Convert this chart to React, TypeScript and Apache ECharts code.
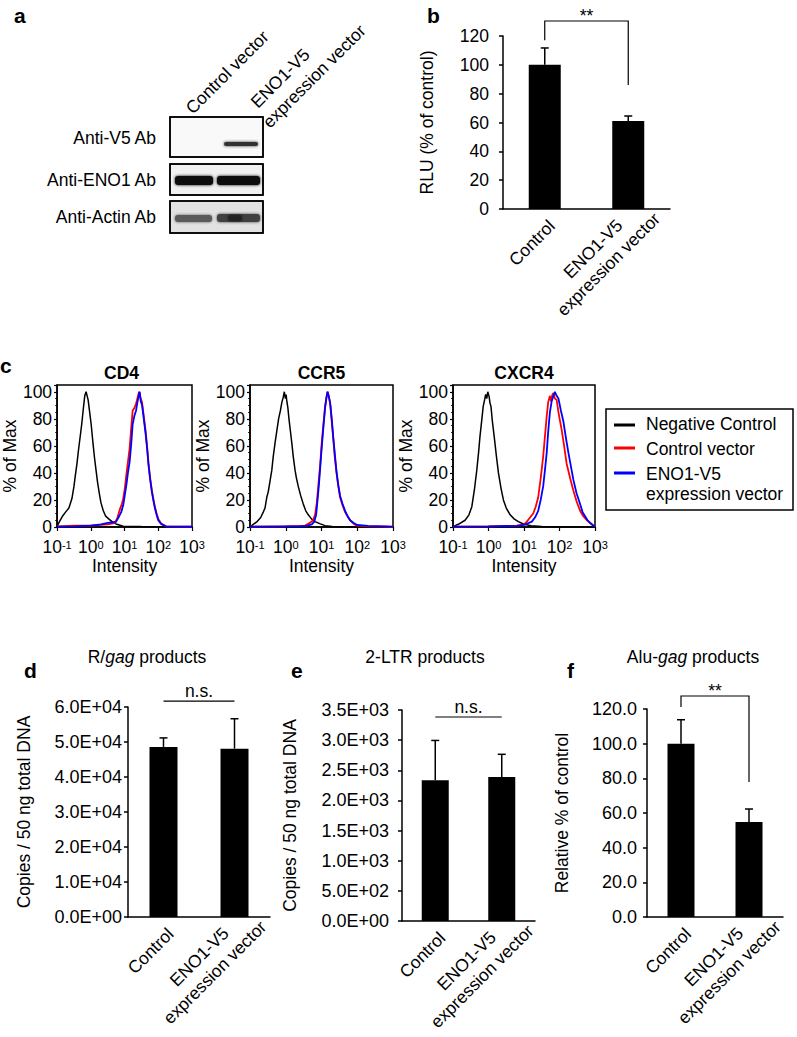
import React, { useEffect, useRef } from "react";
import * as echarts from "echarts";

const FONT = "'Liberation Sans', Arial, Helvetica, sans-serif";

// ---------- bar-chart data ----------
const BAR_CATEGORIES = ["Control", "ENO1-V5\nexpression vector"];
const RLU_VALUES = [100, 61];
const RLU_ERRORS = [11.7, 3.5];
const RGAG_VALUES = [48600, 48100];
const RGAG_ERRORS = [2570, 8550];
const LTR_VALUES = [2335, 2390];
const LTR_ERRORS = [660, 375];
const ALU_VALUES = [100, 54.8];
const ALU_ERRORS = [13.8, 7.5];

// significance annotations (value units)
const RLU_SIG = { level: 130.4, leftEnd: 117, rightEnd: 86, text: "**" };
const RGAG_SIG = { level: 61700, text: "n.s." };
const LTR_SIG = { level: 3384, text: "n.s." };
const ALU_SIG = { level: 127.5, leftEnd: 121.2, rightEnd: 77.9, text: "**" };

// ---------- flow-cytometry histograms: [log10 intensity, % of max] ----------
const LEGEND_NAMES = ["Negative Control", "Control vector", "ENO1-V5 expression vector"];
const HIST_COLORS = ["#000000", "#ff0000", "#0000ff"];

const CD4_NEG = [[-1,0.5],[-0.95,3],[-0.84,8],[-0.75,11],[-0.65,14],[-0.56,21],[-0.5,30],[-0.46,38],[-0.41,47],[-0.37,56],[-0.32,66],[-0.27,76],[-0.22,88],[-0.18,97],[-0.14,100],[-0.11,97],[-0.08,94],[-0.04,86],[0.01,76],[0.06,63],[0.11,51],[0.16,41],[0.2,33],[0.25,25],[0.3,18],[0.37,12],[0.44,8],[0.53,6],[0.63,4],[0.77,2],[0.96,0.5],[1.5,0.3],[2.2,0.2],[3,0]];
const CD4_CTRL = [[-1,0.5],[-0.5,1],[0,1],[0.3,1.5],[0.5,2],[0.62,2.5],[0.72,3],[0.79,7],[0.86,13],[0.92,17],[0.96,21],[1.01,29],[1.05,38],[1.1,48],[1.15,58],[1.2,74],[1.24,86],[1.29,88],[1.34,91],[1.38,95],[1.43,100],[1.47,96],[1.52,92],[1.57,82],[1.62,72],[1.67,59],[1.71,47],[1.76,36],[1.81,27],[1.86,20],[1.9,15],[1.95,10],[2,6],[2.09,2.5],[2.23,0.5],[2.5,0.3],[3,0.2]];
const CD4_ENO1 = [[-1,0.3],[-0.5,0.5],[0,1],[0.3,2],[0.5,3],[0.65,3.5],[0.75,4],[0.82,7],[0.9,11],[0.96,16],[1.01,24],[1.06,32],[1.1,40],[1.15,48],[1.2,62],[1.24,76],[1.29,82],[1.34,86],[1.38,92],[1.42,97],[1.45,100],[1.48,93],[1.52,90],[1.57,80],[1.62,70],[1.67,58],[1.71,46],[1.76,35],[1.81,26],[1.86,19],[1.9,14],[1.95,9],[2,5],[2.09,2],[2.23,0.5],[2.5,0.3],[3,0.2]];

const CCR5_NEG = [[-1,0],[-0.91,2],[-0.8,4],[-0.7,7],[-0.63,11],[-0.58,14],[-0.53,22],[-0.49,26],[-0.44,34],[-0.39,42],[-0.35,52],[-0.3,62],[-0.25,71],[-0.2,80],[-0.15,86],[-0.11,92],[-0.07,96],[-0.04,100],[-0.01,95],[0.01,98],[0.03,93],[0.06,88],[0.09,80],[0.13,71],[0.17,62],[0.21,52],[0.26,42],[0.3,36],[0.35,30],[0.42,23],[0.49,17],[0.56,12],[0.63,9],[0.72,6],[0.82,4],[0.95,2.5],[1.1,1],[1.3,0.3],[1.6,0],[3,0]];
const CCR5_CTRL = [[-1,0.3],[0,0.5],[0.4,0.8],[0.54,1],[0.64,2.5],[0.73,4],[0.78,6],[0.82,9],[0.87,18],[0.91,30],[0.96,45],[1,60],[1.05,75],[1.1,89],[1.14,96],[1.17,100],[1.2,97],[1.24,92],[1.28,80],[1.33,65],[1.37,52],[1.42,40],[1.47,30],[1.52,22],[1.59,16],[1.66,11],[1.73,8],[1.8,5],[1.9,2.5],[1.99,1],[2.3,0.5],[2.8,0.3],[3,0]];
const CCR5_ENO1 = [[-1,0.3],[0,0.5],[0.4,0.5],[0.6,1],[0.73,2],[0.8,4],[0.85,9],[0.89,20],[0.93,32],[0.97,46],[1.01,60],[1.06,76],[1.1,88],[1.14,96],[1.17,100],[1.21,96],[1.25,90],[1.29,79],[1.33,66],[1.38,52],[1.42,41],[1.47,31],[1.52,23],[1.59,17],[1.66,12],[1.73,8],[1.8,5],[1.9,3],[2,1.5],[2.3,0.8],[2.8,0.5],[3,0.3]];

const CXCR4_NEG = [[-1,0.3],[-0.85,2],[-0.66,5],[-0.55,9],[-0.47,15],[-0.4,27],[-0.33,42],[-0.28,55],[-0.24,67],[-0.19,79],[-0.15,89],[-0.11,94],[-0.08,98],[-0.05,95],[-0.02,100],[0.02,96],[0.04,92],[0.07,89],[0.11,78],[0.16,67],[0.22,53],[0.28,40],[0.35,29],[0.42,20],[0.5,14],[0.61,9],[0.72,6],[0.84,4],[1,2],[1.2,1],[1.5,0.3],[2,0],[3,0]];
const CXCR4_CTRL = [[-1,0.3],[0,0.5],[0.8,1],[1,2],[1.08,4],[1.17,7],[1.26,10],[1.33,15],[1.4,22],[1.47,36],[1.54,52],[1.59,67],[1.64,82],[1.68,92],[1.73,97],[1.76,93],[1.8,98],[1.83,99],[1.87,95],[1.92,94],[1.97,85],[2.01,79],[2.06,72],[2.13,60],[2.2,47],[2.3,36],[2.39,27],[2.48,19],[2.58,12],[2.67,8],[2.77,5],[2.87,3],[2.96,1],[3,0.5]];
const CXCR4_ENO1 = [[-1,0.3],[0,0.5],[0.8,0.8],[1,1.5],[1.22,4],[1.31,7],[1.4,12],[1.47,20],[1.54,30],[1.59,42],[1.64,55],[1.68,70],[1.73,85],[1.78,93],[1.83,97],[1.87,100],[1.92,97],[1.97,95],[2.04,86],[2.11,78],[2.18,66],[2.25,55],[2.32,45],[2.39,35],[2.48,25],[2.58,17],[2.65,11],[2.72,8],[2.79,5],[2.86,3],[2.93,1.5],[3,0.3]];

const HIST_PANELS = [
  { title: "CD4", curves: [CD4_NEG, CD4_CTRL, CD4_ENO1] },
  { title: "CCR5", curves: [CCR5_NEG, CCR5_CTRL, CCR5_ENO1] },
  { title: "CXCR4", curves: [CXCR4_NEG, CXCR4_CTRL, CXCR4_ENO1] },
];
const INTENSITY_EXP_MIN = -1;
const INTENSITY_EXP_MAX = 3;

// ---------- helpers ----------
function sci(v: number): string {
  if (v === 0) return "0.0E+00";
  const e = Math.floor(Math.log10(v) + 1e-9);
  const m = v / Math.pow(10, e);
  return `${m.toFixed(1)}E+${String(e).padStart(2, "0")}`;
}

const T = (fontSize: number, extra: any = {}) => ({ fontFamily: FONT, fontSize, color: "#000", ...extra });

function barXAxis(grid: number) {
  return {
    gridIndex: grid,
    type: "category",
    data: BAR_CATEGORIES,
    axisLine: { show: true, onZero: false, lineStyle: { color: "#000", width: 1.5 } },
    axisTick: { show: false },
    axisLabel: { show: false },
  };
}

function barYAxis(grid: number, max: number, interval: number, fmt: (v: number) => string, name: string, gap: number, margin: number, fs: number) {
  return {
    gridIndex: grid,
    type: "value",
    min: 0,
    max,
    interval,
    axisLine: { show: true, onZero: false, lineStyle: { color: "#000", width: 1.5 } },
    axisTick: { show: true, length: 4, lineStyle: { color: "#000", width: 1.5 } },
    splitLine: { show: false },
    axisLabel: { margin, formatter: fmt, ...T(fs) },
    name,
    nameLocation: "middle",
    nameGap: gap,
    nameRotate: 90,
    nameTextStyle: T(17.5),
  };
}

function barSeries(grid: number, values: number[], width: number) {
  return { type: "bar", xAxisIndex: grid, yAxisIndex: grid, data: values, barWidth: width, itemStyle: { color: "#000" }, silent: true, z: 2 };
}

// rotated category labels, placed from the category axis coordinates
const CAT_LABEL_SHIFT = [[7, 14], [21, -1]];
function catLabelSeries(grid: number) {
  return {
    type: "custom",
    xAxisIndex: grid,
    yAxisIndex: grid,
    silent: true,
    clip: false,
    z: 6,
    data: BAR_CATEGORIES.map((_, i) => [i, 0]),
    renderItem: (params: any, api: any) => {
      const i = api.value(0);
      const p = api.coord([i, 0]);
      const sh = CAT_LABEL_SHIFT[i];
      const text = BAR_CATEGORIES[i].split("\n").map((s) => `{c|${s}}`).join("\n");
      return {
        type: "text",
        x: p[0] + sh[0],
        y: p[1] + sh[1],
        rotation: Math.PI / 4,
        style: {
          text,
          align: "right",
          verticalAlign: "middle",
          fontFamily: FONT,
          fontSize: 17.5,
          fill: "#000",
          rich: { c: { fontFamily: FONT, fontSize: 17.5, fill: "#000", align: "center", lineHeight: 22 } },
        },
      };
    },
  };
}

function errorSeries(grid: number, values: number[], errors: number[]) {
  return {
    type: "custom",
    xAxisIndex: grid,
    yAxisIndex: grid,
    silent: true,
    z: 5,
    encode: { x: 0, y: [1, 2] },
    data: values.map((v, i) => [i, v, v + errors[i]]),
    renderItem: (_p: any, api: any) => {
      const base = api.coord([api.value(0), api.value(1)]);
      const top = api.coord([api.value(0), api.value(2)]);
      const hw = 4;
      return {
        type: "group",
        children: [
          { type: "line", shape: { x1: base[0], y1: base[1], x2: top[0], y2: top[1] }, style: { stroke: "#000", lineWidth: 1.5 } },
          { type: "line", shape: { x1: top[0] - hw, y1: top[1], x2: top[0] + hw, y2: top[1] }, style: { stroke: "#000", lineWidth: 1.5 } },
        ],
      };
    },
  };
}

function sigSeries(grid: number, sig: any, fontSize: number) {
  return {
    type: "custom",
    xAxisIndex: grid,
    yAxisIndex: grid,
    silent: true,
    clip: false,
    z: 6,
    data: [[0, sig.level]],
    renderItem: (_p: any, api: any) => {
      const l = api.coord([0, sig.level]);
      const r = api.coord([1, sig.level]);
      const pts: number[][] = [];
      if (sig.leftEnd !== undefined) pts.push([l[0], api.coord([0, sig.leftEnd])[1]]);
      pts.push([l[0], l[1]], [r[0], r[1]]);
      if (sig.rightEnd !== undefined) pts.push([r[0], api.coord([1, sig.rightEnd])[1]]);
      const isStar = sig.text === "**";
      return {
        type: "group",
        children: [
          { type: "polyline", shape: { points: pts }, style: { stroke: "#000", fill: null, lineWidth: 1.2 } },
          {
            type: "text",
            x: (l[0] + r[0]) / 2,
            y: l[1] - (isStar ? 5 : 10),
            style: { text: sig.text, fontFamily: FONT, fontSize, fill: "#000", align: "center", verticalAlign: "middle" },
          },
        ],
      };
    },
  };
}

// ---------- layout ----------
const HIST_GRIDS = [
  { left: 51, top: 385, width: 141, height: 142, gap: 32 },
  { left: 250, top: 385, width: 143, height: 142, gap: 33 },
  { left: 453, top: 385, width: 142, height: 142, gap: 34 },
];

function buildOption() {
  const grid: any[] = [
    { left: 503, top: 36, width: 167, height: 173 }, // b
    ...HIST_GRIDS.map((g) => ({ left: g.left, top: g.top, width: g.width, height: g.height, show: true, borderColor: "#000", borderWidth: 1.5, backgroundColor: "transparent" })),
    { left: 128, top: 707, width: 142, height: 210 }, // d
    { left: 402, top: 710, width: 133, height: 211 }, // e
    { left: 647, top: 709, width: 136, height: 208 }, // f
  ];

  const xAxis: any[] = [barXAxis(0)];
  const yAxis: any[] = [barYAxis(0, 120, 20, (v) => String(v), "RLU (% of control)", 67, 14, 17.5)];
  const series: any[] = [
    barSeries(0, RLU_VALUES, 32),
    errorSeries(0, RLU_VALUES, RLU_ERRORS),
    sigSeries(0, RLU_SIG, 17.5),
    catLabelSeries(0),
  ];

  HIST_PANELS.forEach((p, k) => {
    const gi = k + 1;
    xAxis.push({
      gridIndex: gi,
      type: "value",
      min: INTENSITY_EXP_MIN,
      max: INTENSITY_EXP_MAX,
      interval: 1,
      axisLine: { show: true, onZero: false, lineStyle: { color: "#000", width: 1.5 } },
      axisTick: { show: true, length: 4, lineStyle: { color: "#000", width: 1.2 } },
      splitLine: { show: false },
      axisLabel: {
        margin: 12,
        formatter: (v: number) => `{b|10}{s|${v}}`,
        rich: {
          b: { fontFamily: FONT, fontSize: 17.5, color: "#000", lineHeight: 16 },
          s: { fontFamily: FONT, fontSize: 11, color: "#000", verticalAlign: "top", lineHeight: 11 },
        },
      },
      name: "Intensity",
      nameLocation: "middle",
      nameGap: 28,
      nameTextStyle: T(17.5),
    });
    yAxis.push({
      gridIndex: gi,
      type: "value",
      min: 0,
      max: 105,
      interval: 20,
      axisLine: { show: true, onZero: false, lineStyle: { color: "#000", width: 1.5 } },
      axisTick: { show: true, length: 3, lineStyle: { color: "#000", width: 1.2 } },
      minorTick: { show: true, splitNumber: 4, length: 2, lineStyle: { color: "#000", width: 0.8 } },
      splitLine: { show: false },
      axisLabel: { margin: 5, showMaxLabel: false, lineHeight: 13, ...T(17.5) },
      name: "% of Max",
      nameLocation: "middle",
      nameGap: HIST_GRIDS[k].gap,
      nameRotate: 90,
      nameTextStyle: T(17.5),
    });
    p.curves.forEach((c, ci) => {
      series.push({
        type: "line",
        name: LEGEND_NAMES[ci],
        xAxisIndex: gi,
        yAxisIndex: gi,
        data: c,
        showSymbol: false,
        symbol: "none",
        silent: true,
        lineStyle: { color: HIST_COLORS[ci], width: ci === 0 ? 1.5 : 1.8 },
        itemStyle: { color: HIST_COLORS[ci] },
        z: 2 + ci,
      });
    });
  });

  xAxis.push(barXAxis(4), barXAxis(5), barXAxis(6));
  yAxis.push(
    barYAxis(4, 60000, 10000, sci, "Copies / 50 ng total DNA", 95, 6, 18),
    barYAxis(5, 3500, 500, sci, "Copies / 50 ng total DNA", 103, 13, 18),
    barYAxis(6, 120, 20, (v) => v.toFixed(1), "Relative % of control", 76, 10, 18)
  );
  series.push(
    barSeries(4, RGAG_VALUES, 28), errorSeries(4, RGAG_VALUES, RGAG_ERRORS), sigSeries(4, RGAG_SIG, 17.5), catLabelSeries(4),
    barSeries(5, LTR_VALUES, 27), errorSeries(5, LTR_VALUES, LTR_ERRORS), sigSeries(5, LTR_SIG, 17.5), catLabelSeries(5),
    barSeries(6, ALU_VALUES, 27), errorSeries(6, ALU_VALUES, ALU_ERRORS), sigSeries(6, ALU_SIG, 17.5), catLabelSeries(6)
  );

  const txt = (text: string, x: number, y: number, fs: number, opts: any = {}) => ({
    type: "text",
    x,
    y,
    rotation: opts.rotation || 0,
    silent: true,
    style: {
      text,
      fontFamily: FONT,
      fontSize: fs,
      fontWeight: opts.bold ? "bold" : "normal",
      fill: "#000",
      align: opts.align || "left",
      verticalAlign: opts.va || "middle",
      rich: opts.rich,
    },
  });

  const band = (x: number, y: number, w: number, h: number, fill: string, blur = 3) => ({
    type: "rect",
    silent: true,
    shape: { x, y, width: w, height: h, r: Math.min(h / 2, 3) },
    style: { fill, shadowBlur: blur, shadowColor: fill },
  });

  const italic = { i: { fontFamily: FONT, fontSize: 17.5, fontStyle: "italic", fill: "#000" } };

  const graphic: any[] = [
    // panel letters
    txt("a", 14, 15, 21, { bold: true }),
    txt("b", 427, 15, 21, { bold: true }),
    txt("c", 0, 365, 21, { bold: true }),
    txt("d", 24, 670, 21, { bold: true }),
    txt("e", 291, 670, 21, { bold: true }),
    txt("f", 567, 670, 21, { bold: true }),

    // western blot boxes
    { type: "rect", silent: true, shape: { x: 170, y: 117, width: 93, height: 40 }, style: { fill: "#f9f9f9", stroke: "#000", lineWidth: 1.5 } },
    { type: "rect", silent: true, shape: { x: 170, y: 164, width: 93, height: 31 }, style: { fill: "#f1f1f1", stroke: "#000", lineWidth: 1.5 } },
    { type: "rect", silent: true, shape: { x: 170, y: 201, width: 93, height: 32 }, style: { fill: "#e2e2e2", stroke: "#000", lineWidth: 1.5 } },
    band(224, 142, 34, 4, "#333333"),
    band(175, 176, 38, 9, "#111111"),
    band(217, 176, 43, 9, "#111111"),
    band(175, 215, 37, 7, "#5a5a5a"),
    band(217, 214, 43, 8, "#3f3f3f"),
    band(228, 215, 14, 6, "#222222", 2),
    { type: "rect", silent: true, shape: { x: 170, y: 117, width: 93, height: 40 }, style: { fill: "none", stroke: "#000", lineWidth: 1.5 } },
    { type: "rect", silent: true, shape: { x: 170, y: 164, width: 93, height: 31 }, style: { fill: "none", stroke: "#000", lineWidth: 1.5 } },
    { type: "rect", silent: true, shape: { x: 170, y: 201, width: 93, height: 32 }, style: { fill: "none", stroke: "#000", lineWidth: 1.5 } },

    // blot row labels
    txt("Anti-V5 Ab", 156, 138, 17.5, { align: "right" }),
    txt("Anti-ENO1 Ab", 156, 180, 17.5, { align: "right" }),
    txt("Anti-Actin Ab", 156, 217, 17.5, { align: "right" }),

    // blot lane labels (rotated)
    txt("Control vector", 195, 117, 17.5, { rotation: Math.PI / 4, va: "bottom" }),
    txt("ENO1-V5", 260, 111, 17.5, { rotation: Math.PI / 4, va: "bottom" }),
    txt("expression vector", 272, 131, 17.5, { rotation: Math.PI / 4, va: "bottom" }),

    // histogram titles
    txt("CD4", 121.5, 373, 17.5, { bold: true, align: "center" }),
    txt("CCR5", 321.5, 373, 17.5, { bold: true, align: "center" }),
    txt("CXCR4", 524, 373, 17.5, { bold: true, align: "center" }),

    // legend
    { type: "rect", silent: true, shape: { x: 606, y: 409, width: 187, height: 101 }, style: { fill: "#fff", stroke: "#000", lineWidth: 1.5 } },
    { type: "line", silent: true, shape: { x1: 614, y1: 425, x2: 635, y2: 425 }, style: { stroke: HIST_COLORS[0], lineWidth: 3 } },
    { type: "line", silent: true, shape: { x1: 614, y1: 448, x2: 635, y2: 448 }, style: { stroke: HIST_COLORS[1], lineWidth: 3 } },
    { type: "line", silent: true, shape: { x1: 614, y1: 473, x2: 635, y2: 473 }, style: { stroke: HIST_COLORS[2], lineWidth: 3 } },
    txt("Negative Control", 646, 424, 17.5),
    txt("Control vector", 646, 449, 17.5),
    txt("ENO1-V5", 646, 474, 17.5),
    txt("expression vector", 646, 494, 17.5),

    // qPCR titles
    txt("R/{i|gag} products", 147, 657, 17.5, { align: "center", rich: italic }),
    txt("2-LTR products", 425, 657, 17.5, { align: "center" }),
    txt("Alu-{i|gag} products", 693, 657, 17.5, { align: "center", rich: italic }),
  ];

  return { animation: false, backgroundColor: "#fff", grid, xAxis, yAxis, series, graphic };
}

export default function App() {
  const ref = useRef<HTMLDivElement>(null);
  useEffect(() => {
    if (!ref.current) return;
    const chart = echarts.init(ref.current, undefined, { renderer: "svg" });
    chart.setOption(buildOption() as any);
    return () => chart.dispose();
  }, []);
  return <div ref={ref} style={{ position: "absolute", left: 0, top: 0, width: 797, height: 1037, background: "#fff" }} />;
}
